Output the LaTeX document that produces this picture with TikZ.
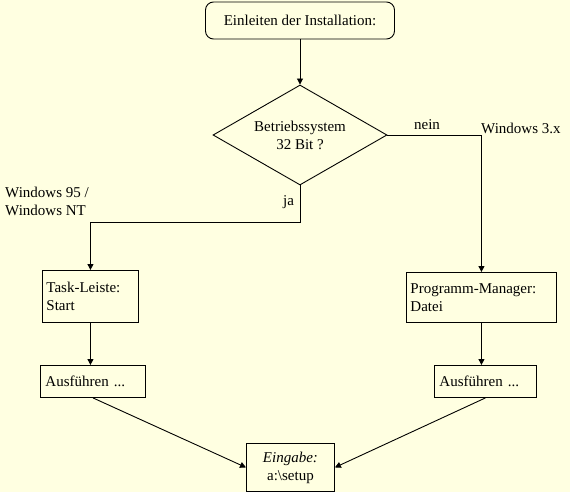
\documentclass[tikz,border=0pt]{standalone}
\usepackage{fontspec}
\setmainfont{Liberation Serif}
\usetikzlibrary{arrows.meta,shapes.geometric}
\definecolor{bg}{RGB}{255,255,225}
\begin{document}
\begin{tikzpicture}[x=1pt,y=-1pt,
  font=\fontsize{15}{18}\selectfont,
  every node/.style={inner sep=0pt},
  box/.style={draw, line width=0.9pt, anchor=north west, align=left, inner xsep=4pt},
  arr/.style={line width=0.9pt, -{Triangle[length=6pt,width=6pt]}}]
\fill[bg] (0,0) rectangle (570,492);
\useasboundingbox (0,0) rectangle (570,492);
% nodes
\node[draw, line width=0.9pt, rounded corners=8pt, minimum width=189pt, minimum height=37pt] (start) at (300,20.5) {Einleiten der Installation:};
\node[draw, line width=0.9pt, diamond, aspect=1.74, minimum width=174pt, minimum height=100pt, align=center] (dia) at (300,135) {Betriebssystem\\32 Bit ?};
\node[box, text width=88pt, minimum height=52pt] (task) at (42,270) {Task-Leiste:\\Start};
\node[box, text width=142pt, minimum height=50pt] (pm) at (406,272) {Programm-Manager:\\Datei};
\node[box, inner xsep=5pt, text width=95pt, minimum height=32pt] (aus1) at (40,365) {Ausführen ...};
\node[box, inner xsep=5pt, text width=92pt, minimum height=32pt] (aus2) at (434,365) {Ausführen ...};
\node[box, align=center, text width=80pt, minimum height=48pt] (ein) at (246,443) {\textit{Eingabe:}\\a:\textbackslash setup};
% labels
\node[anchor=west] (ja) at (283,202) {ja};
\node (nein) at (427,125) {nein};
\node[anchor=west] (w3) at (481,128) {Windows 3.x};
\node[anchor=north west, align=left] (w95) at (5,187) {Windows 95 /\\Windows NT};
% connectors
\draw[arr] (start.south) -- (dia.north);
\draw[arr] (dia.south) -- ++(0,37) -| (task.north);
\draw[arr] (dia.east) -| (pm.north);
\draw[arr] (task.south) -- (task.south |- aus1.north);
\draw[arr] (pm.south) -- (pm.south |- aus2.north);
\draw[arr] (aus1.south) -- (ein.west);
\draw[arr] (aus2.south) -- (ein.east);
\end{tikzpicture}
\end{document}
